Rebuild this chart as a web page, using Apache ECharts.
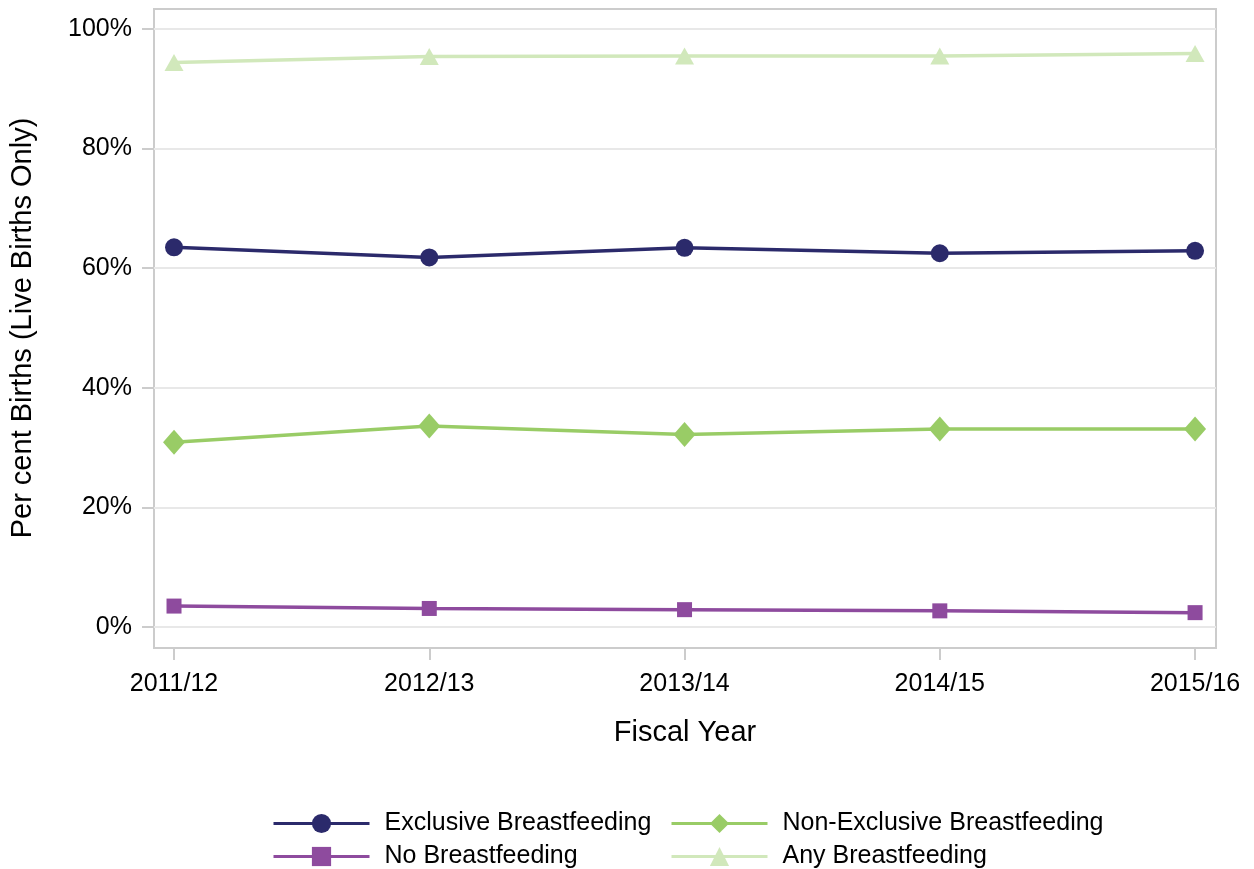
<!DOCTYPE html>
<html>
<head>
<meta charset="utf-8">
<script src="https://cdn.jsdelivr.net/npm/echarts@6/dist/echarts.min.js"></script>
<style>
  html, body { margin: 0; padding: 0; background: #fff; }
  #chart { width: 1254px; height: 869px; }
</style>
</head>
<body>
<div id="chart"></div>
<script>
// fiscal years on the x axis
const years = ['2011/12', '2012/13', '2013/14', '2014/15', '2015/16']

// per cent of live births
const exclusive = [63.5, 61.8, 63.4, 62.5, 62.9]
const nonExclusive = [30.9, 33.6, 32.2, 33.1, 33.1]
const noBf = [3.5, 3.1, 2.9, 2.7, 2.4]
const anyBf = [94.4, 95.4, 95.5, 95.5, 95.9]

const font = '"Liberation Sans", Arial, sans-serif'

const toPoints = function (arr) {
  return arr.map((v, i) => [i, v])
}

const mkSeries = function (name, data, color, symbol, size) {
  return {
    name: name,
    type: 'line',
    data: toPoints(data),
    symbol: symbol,
    symbolSize: size,
    showAllSymbol: true,
    lineStyle: {color: color, width: 3.5},
    itemStyle: {color: color},
    emphasis: {disabled: true},
    animation: false,
    clip: false,
  }
}

const mkLegend = function (left, names) {
  return {
    orient: 'vertical',
    left: left,
    top: 811,
    padding: 0,
    itemWidth: 96,
    itemHeight: 24,
    itemGap: 8,
    selectedMode: false,
    lineStyle: {width: 3},
    textStyle: {fontSize: 25, color: '#000', padding: [0, 0, 0, 10], fontFamily: font},
    data: names,
  }
}

const chart = echarts.init(document.getElementById('chart'))

chart.setOption({
  backgroundColor: '#fff',
  animation: false,
  textStyle: {fontFamily: font},
  grid: {left: 154, right: 38, top: 29, bottom: 242},
  // plot frame (the value range runs a little past 0% and 100%)
  graphic: [{
    type: 'rect',
    shape: {x: 154, y: 9, width: 1062, height: 639},
    style: {fill: null, stroke: '#cccccc', lineWidth: 2},
    silent: true,
    z: 0,
  }],
  xAxis: {
    type: 'value',
    min: -0.0784,
    max: 4.082,
    offset: 21,
    name: 'Fiscal Year',
    nameLocation: 'middle',
    nameGap: 70,
    nameTextStyle: {fontSize: 29, color: '#000', fontFamily: font},
    axisLine: {show: false, onZero: false},
    splitLine: {show: false},
    axisTick: {
      show: true,
      length: 12,
      customValues: [0, 1, 2, 3, 4],
      lineStyle: {color: '#cccccc', width: 2},
    },
    axisLabel: {
      customValues: [0, 1, 2, 3, 4],
      formatter: (v) => years[Math.round(v)],
      fontSize: 25,
      color: '#000',
      margin: 24,
      fontFamily: font,
    },
  },
  yAxis: {
    type: 'value',
    min: 0,
    max: 100,
    interval: 20,
    name: 'Per cent Births (Live Births Only)',
    nameLocation: 'middle',
    nameGap: 117,
    nameTextStyle: {fontSize: 29, color: '#000', fontFamily: font},
    axisLine: {show: false, onZero: false},
    axisTick: {show: true, length: 12, lineStyle: {color: '#cccccc', width: 2}},
    splitLine: {show: true, lineStyle: {color: '#e8e8e8', width: 2}},
    axisLabel: {
      formatter: (v) => v + '%',
      fontSize: 25,
      color: '#000',
      margin: 22,
      fontFamily: font,
    },
  },
  legend: [
    mkLegend(272, ['Exclusive Breastfeeding', 'No Breastfeeding']),
    mkLegend(670, ['Non-Exclusive Breastfeeding', 'Any Breastfeeding']),
  ],
  series: [
    mkSeries('Exclusive Breastfeeding', exclusive, '#2b2a6b', 'circle', 18),
    mkSeries('Non-Exclusive Breastfeeding', nonExclusive, '#99cc66', 'diamond', [22, 25]),
    mkSeries('No Breastfeeding', noBf, '#8e4b9e', 'rect', 15),
    mkSeries('Any Breastfeeding', anyBf, '#d1e8bb', 'triangle', [19, 17]),
  ],
})
</script>
</body>
</html>
